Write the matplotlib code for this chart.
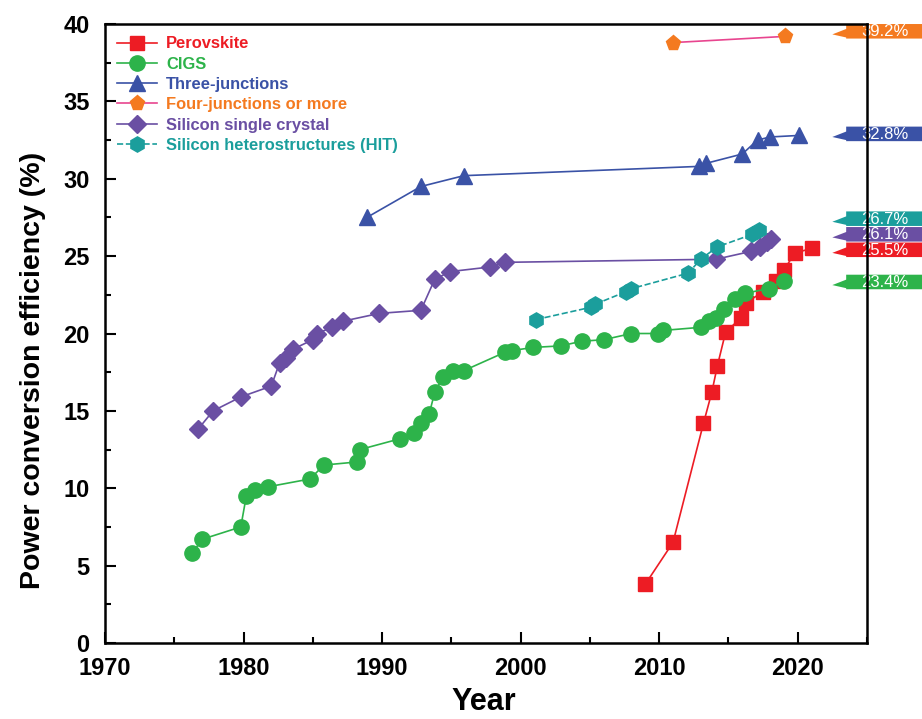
import numpy as np
import matplotlib.pyplot as plt
from matplotlib.patches import Polygon
from matplotlib.ticker import MultipleLocator

plt.rcParams['font.family'] = ['Liberation Sans', 'DejaVu Sans']

# ---- data ----
perov_year = [2009.0, 2011.0, 2013.2, 2013.8, 2014.2, 2014.8, 2015.9, 2016.3,
              2017.5, 2018.4, 2019.0, 2019.8, 2021.0]
perov_eff = [3.8, 6.5, 14.2, 16.2, 17.9, 20.1, 21.0, 22.0, 22.7, 23.4, 24.1, 25.2, 25.5]

cigs_year = [1976.3, 1977.0, 1979.8, 1980.2, 1980.8, 1981.8, 1984.8, 1985.8,
             1988.2, 1988.4, 1991.3, 1992.3, 1992.8, 1993.4, 1993.8, 1994.4,
             1995.1, 1995.9, 1998.9, 1999.4, 2000.9, 2002.9, 2004.4, 2006.0,
             2008.0, 2009.9, 2010.3, 2013.0, 2013.6, 2014.1, 2014.7, 2015.5,
             2016.2, 2017.9, 2019.0]
cigs_eff = [5.8, 6.7, 7.5, 9.5, 9.9, 10.1, 10.6, 11.5,
            11.7, 12.5, 13.2, 13.6, 14.2, 14.8, 16.2, 17.2,
            17.6, 17.6, 18.8, 18.9, 19.1, 19.2, 19.5, 19.6,
            20.0, 20.0, 20.2, 20.4, 20.8, 21.0, 21.6, 22.2,
            22.6, 22.9, 23.4]

three_year = [1988.9, 1992.8, 1995.9, 2012.9, 2013.4, 2016.0, 2017.1, 2018.0, 2020.1]
three_eff = [27.5, 29.5, 30.2, 30.8, 31.0, 31.6, 32.5, 32.7, 32.8]

four_year = [2011.0, 2019.1]
four_eff = [38.8, 39.2]

sisc_year = [1976.7, 1977.8, 1979.8, 1982.0, 1982.6, 1983.1, 1983.6, 1985.0,
             1985.3, 1986.4, 1987.2, 1989.8, 1992.8, 1993.8, 1994.9, 1997.8,
             1998.9, 2014.1, 2016.6, 2017.3, 2017.8, 2018.1]
sisc_eff = [13.8, 15.0, 15.9, 16.6, 18.1, 18.4, 19.0, 19.6,
            20.0, 20.4, 20.8, 21.3, 21.5, 23.5, 24.0, 24.3,
            24.6, 24.8, 25.3, 25.6, 25.9, 26.1]

hit_year = [2001.1, 2005.1, 2005.4, 2007.6, 2008.0, 2012.1, 2013.0, 2014.2, 2016.7, 2017.2]
hit_eff = [20.9, 21.7, 21.9, 22.7, 22.9, 23.9, 24.8, 25.6, 26.4, 26.7]

# record tags on the right: text, colour, y position of the tag
tag_text = ['39.2%', '32.8%', '26.7%', '26.1%', '25.5%', '23.4%']
tag_color = ['#F47A20', '#3A52A6', '#1B9E9C', '#6A4FA3', '#ED1C24', '#2DB34A']
tag_y = [39.53, 32.9, 27.42, 26.41, 25.41, 23.33]

fig = plt.figure(figsize=(9.22, 7.19), dpi=100)
ax = fig.add_axes([0.1139, 0.1057, 0.8264, 0.8609])

ax.plot(perov_year, perov_eff, '-', color='#ED1C24', lw=1.2, marker='s', ms=9.5,
        mec='#ED1C24', label='Perovskite')
ax.plot(cigs_year, cigs_eff, '-', color='#2DB34A', lw=1.2, marker='o', ms=11,
        mec='#2DB34A', label='CIGS')
ax.plot(three_year, three_eff, '-', color='#3A52A6', lw=1.2, marker='^', ms=11,
        mec='#3A52A6', label='Three-junctions')
ax.plot(four_year, four_eff, '-', color='#E8458F', lw=1.2, marker='p', ms=11,
        mfc='#F47A20', mec='#F47A20', label='Four-junctions or more')
ax.plot(sisc_year, sisc_eff, '-', color='#6A4FA3', lw=1.2, marker='D', ms=9,
        mec='#6A4FA3', label='Silicon single crystal')
ax.plot(hit_year, hit_eff, '--', color='#1B9E9C', lw=1.2, marker='h', ms=11,
        mec='#1B9E9C', label='Silicon heterostructures (HIT)')

ax.set_xlim(1970, 2025)
ax.set_ylim(0, 40)
ax.xaxis.set_major_locator(MultipleLocator(10))
ax.xaxis.set_minor_locator(MultipleLocator(5))
ax.yaxis.set_major_locator(MultipleLocator(5))
ax.yaxis.set_minor_locator(MultipleLocator(2.5))
ax.tick_params(which='both', direction='in', width=1.5, labelsize=17)
ax.tick_params(which='major', length=8)
ax.tick_params(which='minor', length=4)
ax.tick_params(axis='x', pad=10)
ax.tick_params(axis='y', pad=11)
for lab in ax.get_xticklabels() + ax.get_yticklabels():
    lab.set_fontweight('bold')
for sp in ax.spines.values():
    sp.set_linewidth(1.8)

ax.set_xlabel('Year', fontsize=22, fontweight='bold')
ax.set_ylabel('Power conversion efficiency (%)', fontsize=20.5, fontweight='bold')
ax.xaxis.set_label_coords(0.497, -0.071)
ax.yaxis.set_label_coords(-0.077, 0.44)

leg = ax.legend(loc='upper left', frameon=False, handlelength=2.4,
                borderaxespad=0.35, labelspacing=0.32, handletextpad=0.55,
                prop={'weight': 'bold', 'size': 11.9})
for txt, line in zip(leg.get_texts(), leg.get_lines()):
    txt.set_color(line.get_markerfacecolor())

# arrow-shaped value tags on the right edge
for t, c, y in zip(tag_text, tag_color, tag_y):
    h = 0.47
    poly = Polygon([(2022.5, y - 0.2), (2023.5, y + 0.15), (2023.5, y + h),
                    (2030.0, y + h), (2030.0, y - h), (2023.5, y - h),
                    (2023.5, y - 0.4)],
                   closed=True, fc=c, ec='none', clip_on=False, zorder=1)
    ax.add_patch(poly)
    ax.text(2026.3, y - 0.03, t, color='white', fontsize=12,
            ha='center', va='center', clip_on=False, zorder=1.5)

fig.savefig('out.png', dpi=100)
